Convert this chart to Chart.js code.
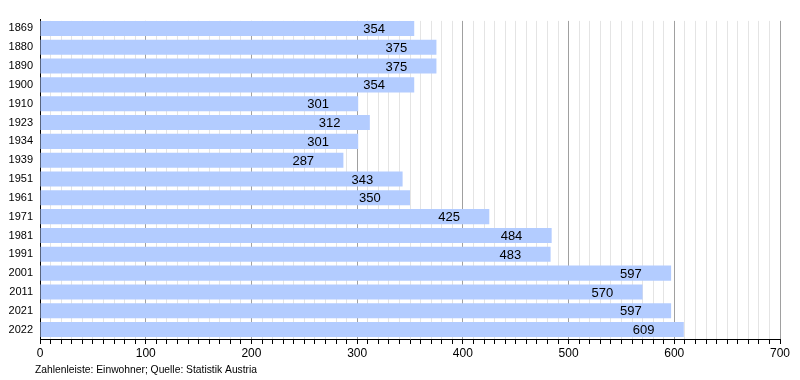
<!DOCTYPE html>
<html><head><meta charset="utf-8">
<script src="https://cdn.jsdelivr.net/npm/chart.js@4/dist/chart.umd.min.js"></script>
<style>html,body{margin:0;padding:0;background:#fff}#wrap{width:800px;height:380px}</style>
</head><body><div id="wrap"><canvas id="c" width="800" height="380"></canvas></div>
<script>
const years = ["1869","1880","1890","1900","1910","1923","1934","1939","1951","1961","1971","1981","1991","2001","2011","2021","2022"];
const population = [354,375,375,354,301,312,301,287,343,350,425,484,483,597,570,597,609];
const footerText = "Zahlenleiste: Einwohner; Quelle: Statistik Austria";
const FONT = "'Liberation Sans', Arial, sans-serif";

const overlay = {
  id: 'overlay',
  beforeDatasetsDraw(chart) {
    // trim gridlines above the first bar, as in the reference
    const meta = chart.getDatasetMeta(0);
    const first = meta.data[0];
    if (!first) return;
    const top = first.y - first.height / 2;
    const ca = chart.chartArea;
    const ctx = chart.ctx;
    ctx.save();
    ctx.fillStyle = '#fff';
    ctx.fillRect(ca.left + 1, 0, ca.right - ca.left + 2, top);
    ctx.restore();
  },
  afterDatasetsDraw(chart) {
    const ctx = chart.ctx;
    const xs = chart.scales.x, ys = chart.scales.y;
    ctx.save();
    ctx.font = "13px " + FONT;
    ctx.fillStyle = "#000";
    ctx.textAlign = "left";
    ctx.textBaseline = "middle";
    population.forEach((v, i) => {
      const x = xs.getPixelForValue(v) - 51;
      const y = ys.getPixelForValue(i) + 1;
      ctx.fillText(String(v), x, y);
    });
    ctx.font = "10.3px " + FONT;
    ctx.textBaseline = "alphabetic";
    ctx.fillText(footerText, 35, 373);
    ctx.restore();
  }
};

new Chart(document.getElementById('c'), {
  type: 'bar',
  data: {
    labels: years,
    datasets: [{
      data: population,
      backgroundColor: 'rgb(179,204,255)',
      borderWidth: 0,
      categoryPercentage: 1.0,
      barPercentage: 0.8
    }]
  },
  options: {
    indexAxis: 'y',
    responsive: false,
    animation: false,
    layout: { padding: { top: 19, right: 20, left: 0, bottom: 0 } },
    plugins: { legend: { display: false }, tooltip: { enabled: false } },
    scales: {
      x: {
        min: 0, max: 700,
        afterFit(s) { s.height = 41; },
        border: { display: true, color: '#000', width: 1 },
        grid: {
          color: ctx => (ctx.tick && ctx.tick.value % 100 === 0) ? '#a0a0a0' : '#e4e4e4',
          tickColor: '#000',
          tickLength: 5,
          drawOnChartArea: true
        },
        ticks: {
          stepSize: 10,
          autoSkip: false,
          maxRotation: 0,
          padding: 2,
          color: '#000',
          font: { family: FONT, size: 12 },
          callback: v => (v % 100 === 0 ? String(v) : '')
        }
      },
      y: {
        afterFit(s) { s.width = 40; },
        border: { display: true, color: '#000', width: 1 },
        grid: { display: false, drawTicks: false, tickLength: 0 },
        ticks: {
          padding: 7,
          color: '#000',
          font: { family: FONT, size: 11 }
        }
      }
    }
  },
  plugins: [overlay]
});
</script></body></html>
